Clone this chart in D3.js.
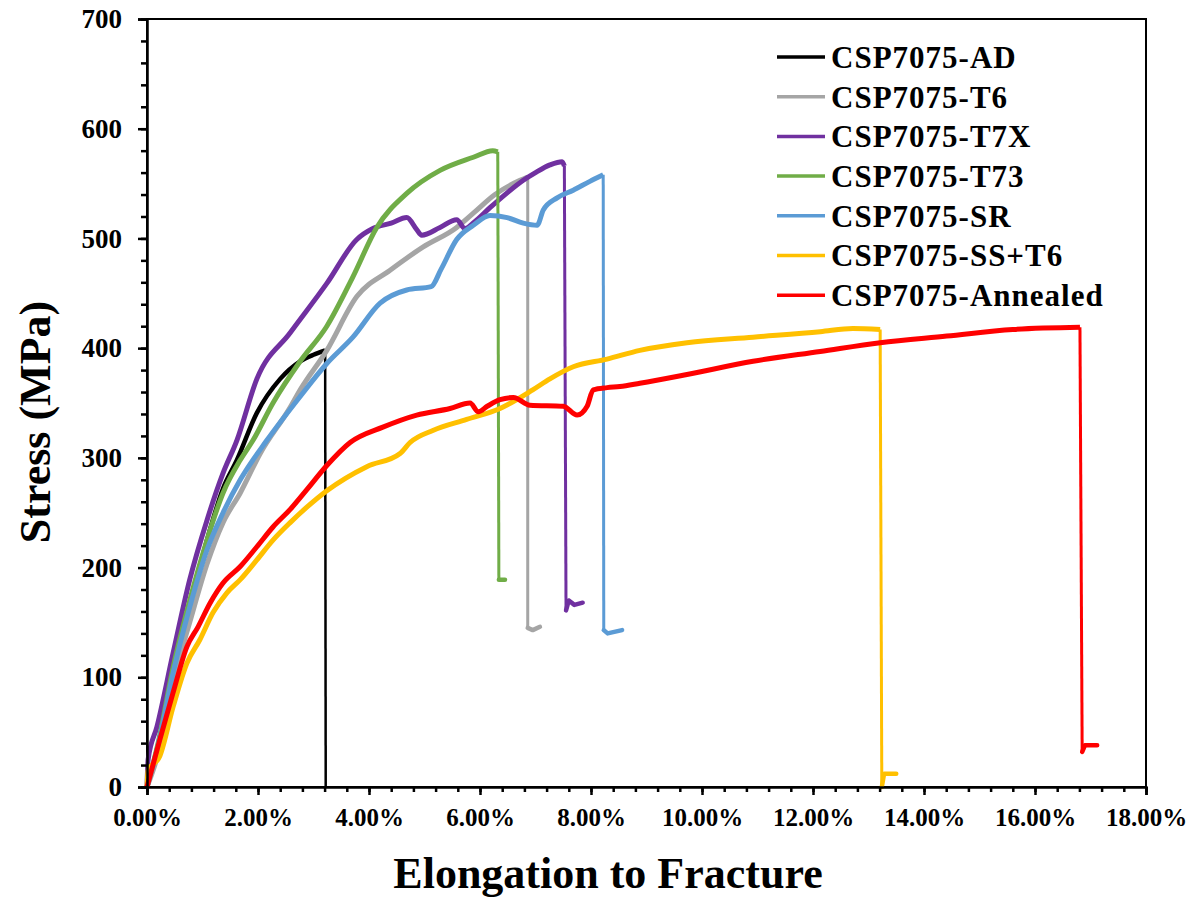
<!DOCTYPE html>
<html><head><meta charset="utf-8">
<script src="https://cdn.jsdelivr.net/npm/d3@7"></script>
<style>
body{margin:0;background:#fff}
text{font-family:"Liberation Serif","Times New Roman",serif;font-weight:bold;fill:#000}
</style>
</head><body>
<svg id="c" width="1196" height="897"></svg>
<script>
// ---- data (strain %, stress MPa) ----
const seriesNames = ["CSP7075-AD","CSP7075-T6","CSP7075-T7X","CSP7075-T73","CSP7075-SR","CSP7075-SS+T6","CSP7075-Annealed"];

const adCurve = [[0,0],[0.2,35],[0.47,95],[0.77,165],[1.08,225],[1.37,272],[1.62,298],[1.98,341],[2.4,372],[2.76,388],[3.0,394],[3.21,398]];
const adFracture = [[3.22,0]];

const t6Curve = [[0,0],[0.2,30],[0.47,96],[0.77,150],[1.08,203],[1.37,241],[1.68,268],[2.04,304],[2.58,346],[2.76,362],[3.24,398],[3.78,447],[4.38,471],[4.97,492],[5.58,510],[5.88,523],[6.27,540],[6.72,553],[6.86,556]];
const t6Fracture = [[6.86,145],[6.95,143],[7.08,146]];

const t7xCurve = [[0,0],[0.02,25],[0.18,55],[0.47,122],[0.77,189],[1.08,243],[1.37,286],[1.62,316],[1.98,372],[2.58,414],[3.24,459],[3.78,499],[4.07,509],[4.4,514],[4.68,519],[4.86,508],[4.95,503],[5.28,510],[5.58,517],[5.73,509],[5.9,515],[6.18,528],[6.5,542],[6.78,553],[7.0,560],[7.26,567],[7.48,570],[7.52,566]];
const t7xFracture = [[7.55,161],[7.6,170],[7.7,166],[7.85,168]];

const t73Curve = [[0,0],[0.2,40],[0.47,109],[0.77,170],[1.08,225],[1.37,268],[1.68,298],[1.91,316],[2.27,350],[2.76,388],[3.24,420],[3.71,465],[4.14,510],[4.68,541],[5.28,562],[5.88,574],[6.23,580],[6.32,579]];
const t73Fracture = [[6.34,189],[6.45,189]];

const srCurve = [[0,0],[0.2,38],[0.47,104],[0.77,164],[1.08,216],[1.37,250],[1.68,280],[2.16,316],[2.76,356],[3.24,386],[3.71,410],[4.2,441],[4.68,453],[5.12,456],[5.3,472],[5.58,499],[5.88,512],[6.18,521],[6.49,519],[6.78,514],[7.03,512],[7.14,526],[7.39,537],[7.68,544],[7.98,552],[8.22,558]];
const srFracture = [[8.23,143],[8.3,140],[8.56,143]];

const ssT6Curve = [[0,0],[0.02,15],[0.23,28],[0.47,73],[0.72,113],[0.95,134],[1.19,159],[1.44,177],[1.68,189],[1.98,207],[2.27,225],[2.58,241],[2.88,255],[3.24,270],[3.96,292],[4.56,304],[4.74,314],[5.15,325],[5.76,335],[6.36,345],[6.95,362],[7.26,372],[7.68,383],[8.29,390],[8.88,398],[9.73,405],[10.92,410],[12.13,415],[12.72,418],[13.21,417]];
const ssT6Fracture = [[13.24,0],[13.28,12],[13.5,12]];

const annealedCurve = [[0,0],[0.23,43],[0.47,86],[0.72,128],[0.92,146],[1.14,168],[1.37,186],[1.68,201],[1.98,219],[2.27,237],[2.58,253],[2.88,271],[3.24,293],[3.66,314],[4.25,328],[4.86,339],[5.46,345],[5.82,350],[5.97,342],[6.13,347],[6.36,353],[6.6,355],[6.9,348],[7.5,347],[7.75,339],[7.93,347],[8.04,362],[8.29,364],[8.52,365],[8.88,368],[9.73,376],[10.92,388],[12.13,397],[13.21,405],[14.41,411],[15.6,417],[16.81,419]];
const annealedFracture = [[16.85,32],[16.9,38],[17.12,38]];

const xTickValues = [0,2,4,6,8,10,12,14,16,18];
const xTickLabels = ["0.00%","2.00%","4.00%","6.00%","8.00%","10.00%","12.00%","14.00%","16.00%","18.00%"];
const yTickValues = [0,100,200,300,400,500,600,700];
const yTickLabels = ["0","100","200","300","400","500","600","700"];

// ---- styles ----
const colors = ["#000000","#A5A5A5","#7030A0","#70AD47","#5B9BD5","#FFC000","#FF0000"];
const curves = [adCurve,t6Curve,t7xCurve,t73Curve,srCurve,ssT6Curve,annealedCurve];
const fractures = [adFracture,t6Fracture,t7xFracture,t73Fracture,srFracture,ssT6Fracture,annealedFracture];

const svg = d3.select("#c");
const L=147, T=19, R=1146, B=787;
const x = d3.scaleLinear().domain([0,18]).range([L,R]);
const y = d3.scaleLinear().domain([0,700]).range([B,T]);

// frame
svg.append("rect").attr("x",L).attr("y",T).attr("width",R-L).attr("height",B-T)
  .attr("fill","none").attr("stroke","#000").attr("stroke-width",2);

const line = d3.line().x(d=>x(d[0])).y(d=>y(d[1]));
const smooth = d3.line().x(d=>x(d[0])).y(d=>y(d[1])).curve(d3.curveMonotoneX);

curves.forEach((c,i)=>{
  const f = fractures[i];
  const last = c[c.length-1];
  svg.append("path").datum([last,f[0]]).attr("d",line)
    .attr("fill","none").attr("stroke",colors[i]).attr("stroke-width",i===0?2.5:3);
  if(f.length>1){
    svg.append("path").datum(f).attr("d",line)
      .attr("fill","none").attr("stroke",colors[i]).attr("stroke-width",4.5)
      .attr("stroke-linejoin","round").attr("stroke-linecap","round");
  }
  svg.append("path").datum(c).attr("d",smooth)
    .attr("fill","none").attr("stroke",colors[i]).attr("stroke-width",i===0?4.5:5)
    .attr("stroke-linejoin","round").attr("stroke-linecap","butt");
});

// axes
const xMinor = d3.range(0,18.001,0.4);
const yMinor = d3.range(0,700.001,20);
svg.append("g").attr("transform",`translate(0,${B})`)
  .call(d3.axisBottom(x).tickValues(xMinor).tickSize(5).tickFormat(""))
  .call(g=>g.select(".domain").remove())
  .selectAll("line").attr("stroke-width",2.5);
svg.append("g").attr("transform",`translate(${L},0)`)
  .call(d3.axisLeft(y).tickValues(yMinor).tickSize(6).tickFormat(""))
  .call(g=>g.select(".domain").remove())
  .selectAll("line").attr("stroke-width",2.5);

const xa = svg.append("g").attr("transform",`translate(0,${B})`)
  .call(d3.axisBottom(x).tickValues(xTickValues).tickSize(8).tickPadding(13)
    .tickFormat((d,i)=>xTickLabels[i]));
xa.select(".domain").attr("stroke-width",2.5);
xa.selectAll("line").attr("stroke-width",2.5);
xa.selectAll("text").attr("font-size",25).attr("font-family","Liberation Serif").attr("font-weight","bold");

const ya = svg.append("g").attr("transform",`translate(${L},0)`)
  .call(d3.axisLeft(y).tickValues(yTickValues).tickSize(9).tickPadding(16)
    .tickFormat((d,i)=>yTickLabels[i]));
ya.select(".domain").attr("stroke-width",2.5);
ya.selectAll("line").attr("stroke-width",2.5);
ya.selectAll("text").attr("font-size",27).attr("font-family","Liberation Serif").attr("font-weight","bold");

// axis titles
svg.append("text").attr("x",608).attr("y",888).attr("text-anchor","middle")
  .attr("font-size",44).text("Elongation to Fracture");
svg.append("text").attr("transform","translate(50,422) rotate(-90)").attr("text-anchor","middle")
  .attr("font-size",44).text("Stress (MPa)");

// legend
const lg = svg.append("g");
seriesNames.forEach((n,i)=>{
  const yy = 57 + i*39.7;
  lg.append("line").attr("x1",777).attr("x2",825).attr("y1",yy).attr("y2",yy)
    .attr("stroke",colors[i]).attr("stroke-width",3.5);
  lg.append("text").attr("x",831).attr("y",yy).attr("dy","0.35em")
    .attr("font-size",31).attr("letter-spacing",1).text(n);
});
</script>
</body></html>
